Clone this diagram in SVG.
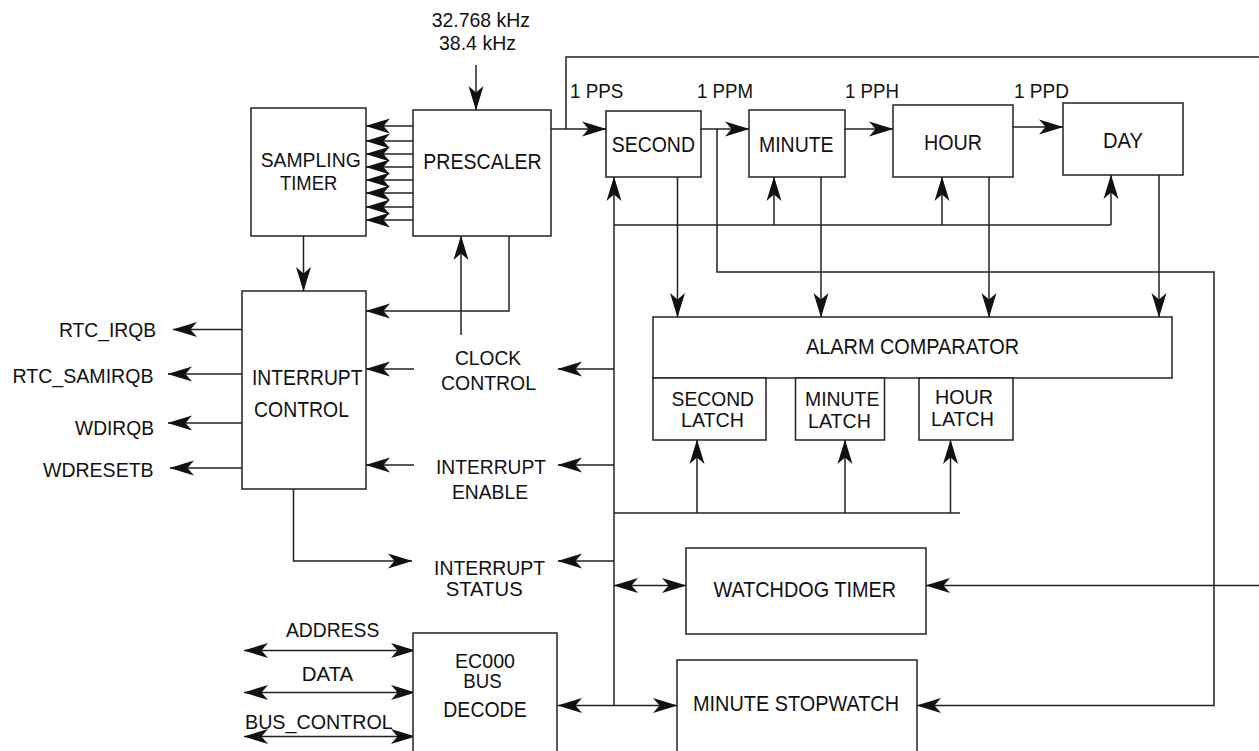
<svg xmlns="http://www.w3.org/2000/svg" width="1259" height="751" viewBox="0 0 1259 751">
<style>
.box{fill:#fff;stroke:#222;stroke-width:1.5}
.ln{fill:none;stroke:#222;stroke-width:1.5}
.ar{marker-end:url(#ah)}
.bi{marker-start:url(#ah);marker-end:url(#ah)}
text{font-family:"Liberation Sans",Arial,sans-serif;fill:#111}
.lb{font-size:21px}
.bx{font-size:22px}
.sm{font-size:20.5px}
</style>
<defs>
<marker id="ah" viewBox="-25 -8 26 16" refX="0" refY="0" markerWidth="26" markerHeight="16" markerUnits="userSpaceOnUse" orient="auto-start-reverse">
<path d="M0.5,0 L-24,-7.5 L-17.5,0 L-24,7.5 Z" fill="#111"/>
</marker>
</defs>
<rect width="1259" height="751" fill="#fff"/>

<g id="connectors">
<line class="ln ar" x1="476" y1="65" x2="476" y2="110"/>
<line class="ln ar" x1="413" y1="126" x2="366" y2="126"/>
<line class="ln ar" x1="413" y1="141" x2="366" y2="141"/>
<line class="ln ar" x1="413" y1="154" x2="366" y2="154"/>
<line class="ln ar" x1="413" y1="167" x2="366" y2="167"/>
<line class="ln ar" x1="413" y1="180" x2="366" y2="180"/>
<line class="ln ar" x1="413" y1="193" x2="366" y2="193"/>
<line class="ln ar" x1="413" y1="207" x2="366" y2="207"/>
<line class="ln ar" x1="413" y1="220" x2="366" y2="220"/>
<line class="ln ar" x1="551" y1="129" x2="606" y2="129"/>
<polyline class="ln" points="566,129 566,57 1259,57"/>
<line class="ln ar" x1="701" y1="129" x2="749" y2="129"/>
<polyline class="ln ar" points="717,129 717,272 1214,272 1214,705.5 917,705.5"/>
<line class="ln ar" x1="845" y1="129" x2="893" y2="129"/>
<line class="ln ar" x1="1013" y1="127" x2="1063" y2="127"/>
<line class="ln ar" x1="614" y1="705.5" x2="614" y2="177"/>
<line class="ln" x1="614" y1="225" x2="1111" y2="225"/>
<line class="ln ar" x1="774" y1="225" x2="774" y2="177"/>
<line class="ln ar" x1="942" y1="225" x2="942" y2="177"/>
<line class="ln ar" x1="1111" y1="225" x2="1111" y2="175"/>
<line class="ln ar" x1="677.5" y1="177" x2="677.5" y2="317"/>
<line class="ln ar" x1="821" y1="177" x2="821" y2="317"/>
<line class="ln ar" x1="989" y1="177" x2="989" y2="317"/>
<line class="ln ar" x1="1159" y1="175" x2="1159" y2="317"/>
<line class="ln" x1="614" y1="513" x2="960" y2="513"/>
<line class="ln ar" x1="697" y1="513" x2="697" y2="440"/>
<line class="ln ar" x1="845" y1="513" x2="845" y2="440"/>
<line class="ln ar" x1="950.5" y1="513" x2="950.5" y2="440"/>
<line class="ln ar" x1="614" y1="369" x2="558" y2="369"/>
<line class="ln ar" x1="614" y1="465" x2="558" y2="465"/>
<line class="ln ar" x1="614" y1="561" x2="558" y2="561"/>
<line class="ln bi" x1="614" y1="585.5" x2="686" y2="585.5"/>
<line class="ln ar" x1="1259" y1="585.5" x2="926" y2="585.5"/>
<line class="ln bi" x1="558" y1="705.5" x2="677" y2="705.5"/>
<line class="ln ar" x1="303.5" y1="236" x2="303.5" y2="291"/>
<polyline class="ln ar" points="509,236 509,311 366,311"/>
<line class="ln ar" x1="461" y1="335" x2="461" y2="236"/>
<line class="ln ar" x1="414" y1="369" x2="366" y2="369"/>
<line class="ln ar" x1="414" y1="465" x2="366" y2="465"/>
<line class="ln ar" x1="243" y1="329.5" x2="173" y2="329.5"/>
<line class="ln ar" x1="243" y1="374" x2="168" y2="374"/>
<line class="ln ar" x1="243" y1="423" x2="168" y2="423"/>
<line class="ln ar" x1="243" y1="468" x2="170" y2="468"/>
<polyline class="ln ar" points="293.5,489 293.5,561 412,561"/>
<line class="ln bi" x1="244" y1="650.5" x2="415" y2="650.5"/>
<line class="ln bi" x1="244" y1="692.5" x2="415" y2="692.5"/>
<line class="ln bi" x1="244" y1="736.5" x2="415" y2="736.5"/>
</g>

<g id="sampling-timer">
<rect class="box" x="251" y="108" width="115" height="128"/>
<text class="sm" x="260.7" y="167" textLength="100" lengthAdjust="spacingAndGlyphs">SAMPLING</text>
<text class="sm" x="280" y="189.5" textLength="57.3" lengthAdjust="spacingAndGlyphs">TIMER</text>
</g>
<g id="prescaler">
<rect class="box" x="413" y="110" width="138" height="126"/>
<text class="bx" x="423.3" y="169" textLength="118.4" lengthAdjust="spacingAndGlyphs">PRESCALER</text>
</g>
<g id="second">
<rect class="box" x="606" y="111" width="95" height="66"/>
<text class="bx" x="611.7" y="152.3" textLength="83.3" lengthAdjust="spacingAndGlyphs">SECOND</text>
</g>
<g id="minute">
<rect class="box" x="749" y="110" width="96" height="67"/>
<text class="bx" x="759" y="151.7" textLength="74.6" lengthAdjust="spacingAndGlyphs">MINUTE</text>
</g>
<g id="hour">
<rect class="box" x="893" y="105" width="120" height="72"/>
<text class="bx" x="924" y="150" textLength="58" lengthAdjust="spacingAndGlyphs">HOUR</text>
</g>
<g id="day">
<rect class="box" x="1063" y="103" width="120" height="72"/>
<text class="bx" x="1103" y="148" textLength="40" lengthAdjust="spacingAndGlyphs">DAY</text>
</g>
<g id="alarm-comparator">
<rect class="box" x="653" y="317" width="519" height="61"/>
<text class="bx" x="806" y="354" textLength="213" lengthAdjust="spacingAndGlyphs">ALARM COMPARATOR</text>
</g>
<g id="second-latch">
<rect class="box" x="653" y="378" width="113" height="62"/>
<text class="sm" x="671.6" y="406" textLength="82.4" lengthAdjust="spacingAndGlyphs">SECOND</text>
<text class="sm" x="681" y="426.7" textLength="63" lengthAdjust="spacingAndGlyphs">LATCH</text>
</g>
<g id="minute-latch">
<rect class="box" x="795.5" y="378" width="89" height="62"/>
<text class="sm" x="805" y="406" textLength="74.4" lengthAdjust="spacingAndGlyphs">MINUTE</text>
<text class="sm" x="808" y="428" textLength="63" lengthAdjust="spacingAndGlyphs">LATCH</text>
</g>
<g id="hour-latch">
<rect class="box" x="919" y="378" width="94" height="62"/>
<text class="sm" x="935" y="404" textLength="58" lengthAdjust="spacingAndGlyphs">HOUR</text>
<text class="sm" x="931" y="426" textLength="63" lengthAdjust="spacingAndGlyphs">LATCH</text>
</g>
<g id="interrupt-control">
<rect class="box" x="242" y="291" width="124" height="198"/>
<text class="bx" x="252" y="385" textLength="110.5" lengthAdjust="spacingAndGlyphs">INTERRUPT</text>
<text class="bx" x="254" y="416.7" textLength="95" lengthAdjust="spacingAndGlyphs">CONTROL</text>
</g>
<g id="watchdog-timer">
<rect class="box" x="686" y="548" width="240" height="86"/>
<text class="bx" x="713.4" y="597" textLength="182.6" lengthAdjust="spacingAndGlyphs">WATCHDOG TIMER</text>
</g>
<g id="minute-stopwatch">
<rect class="box" x="677" y="660" width="240" height="100"/>
<text class="bx" x="693" y="710.7" textLength="206" lengthAdjust="spacingAndGlyphs">MINUTE STOPWATCH</text>
</g>
<g id="ec000-bus-decode">
<rect class="box" x="413" y="633" width="144" height="130"/>
<text class="sm" x="455" y="667.7" textLength="60" lengthAdjust="spacingAndGlyphs">EC000</text>
<text class="sm" x="463.3" y="688.3" textLength="38.4" lengthAdjust="spacingAndGlyphs">BUS</text>
<text class="bx" x="443.3" y="716.7" textLength="83.4" lengthAdjust="spacingAndGlyphs">DECODE</text>
</g>

<g id="labels">
<text class="lb" x="431.7" y="26.7" textLength="98.3" lengthAdjust="spacingAndGlyphs">32.768 kHz</text>
<text class="lb" x="439" y="50" textLength="77" lengthAdjust="spacingAndGlyphs">38.4 kHz</text>
<text class="lb" x="570" y="98.3" textLength="53.3" lengthAdjust="spacingAndGlyphs">1 PPS</text>
<text class="lb" x="697" y="98.3" textLength="56" lengthAdjust="spacingAndGlyphs">1 PPM</text>
<text class="lb" x="845" y="98.3" textLength="54" lengthAdjust="spacingAndGlyphs">1 PPH</text>
<text class="lb" x="1014" y="98.3" textLength="55" lengthAdjust="spacingAndGlyphs">1 PPD</text>
<text class="lb" x="59" y="336.7" textLength="97" lengthAdjust="spacingAndGlyphs">RTC_IRQB</text>
<text class="lb" x="12.5" y="383" textLength="141" lengthAdjust="spacingAndGlyphs">RTC_SAMIRQB</text>
<text class="lb" x="75" y="435" textLength="79" lengthAdjust="spacingAndGlyphs">WDIRQB</text>
<text class="lb" x="43" y="477" textLength="110.6" lengthAdjust="spacingAndGlyphs">WDRESETB</text>
<text class="lb" x="455" y="365" textLength="66" lengthAdjust="spacingAndGlyphs">CLOCK</text>
<text class="lb" x="441" y="390" textLength="95" lengthAdjust="spacingAndGlyphs">CONTROL</text>
<text class="lb" x="436" y="474" textLength="110" lengthAdjust="spacingAndGlyphs">INTERRUPT</text>
<text class="lb" x="452" y="499" textLength="76" lengthAdjust="spacingAndGlyphs">ENABLE</text>
<text class="lb" x="434" y="575" textLength="111" lengthAdjust="spacingAndGlyphs">INTERRUPT</text>
<text class="lb" x="445.7" y="595.7" textLength="77" lengthAdjust="spacingAndGlyphs">STATUS</text>
<text class="lb" x="286" y="636.7" textLength="93.3" lengthAdjust="spacingAndGlyphs">ADDRESS</text>
<text class="lb" x="301.7" y="681" textLength="51.6" lengthAdjust="spacingAndGlyphs">DATA</text>
<text class="lb" x="245" y="729.3" textLength="147.7" lengthAdjust="spacingAndGlyphs">BUS_CONTROL</text>
</g>
</svg>
